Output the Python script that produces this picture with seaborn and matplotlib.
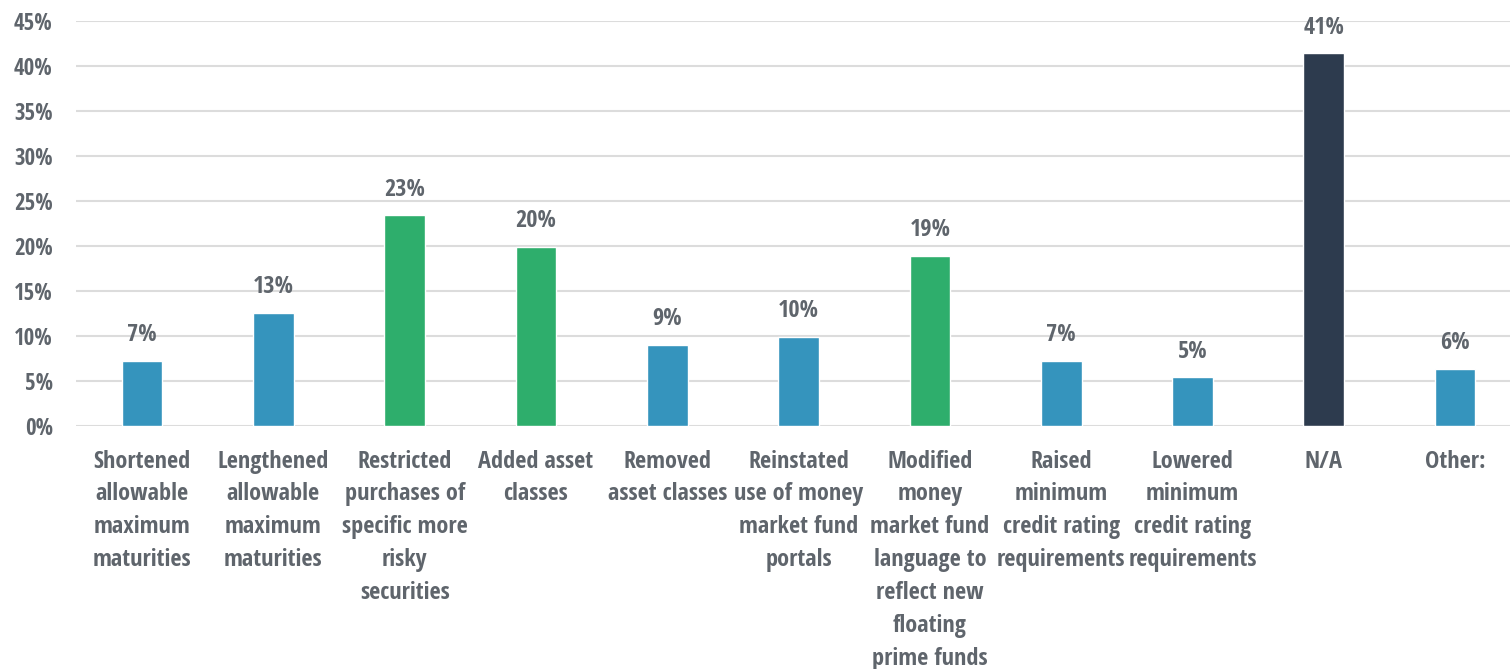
import matplotlib
matplotlib.use("Agg")
import matplotlib.pyplot as plt
import seaborn as sns
import pandas as pd
from matplotlib import font_manager

categories = [
    "Shortened\nallowable\nmaximum\nmaturities",
    "Lengthened\nallowable\nmaximum\nmaturities",
    "Restricted\npurchases of\nspecific more\nrisky\nsecurities",
    "Added asset\nclasses",
    "Removed\nasset classes",
    "Reinstated\nuse of money\nmarket fund\nportals",
    "Modified\nmoney\nmarket fund\nlanguage to\nreflect new\nfloating\nprime funds",
    "Raised\nminimum\ncredit rating\nrequirements",
    "Lowered\nminimum\ncredit rating\nrequirements",
    "N/A",
    "Other:",
]
values = [7.2, 12.6, 23.4, 19.9, 9.0, 9.9, 18.9, 7.2, 5.4, 41.4, 6.3]
groups = ["blue", "blue", "green", "green", "blue", "blue", "green", "blue", "blue", "navy", "blue"]
palette = {"blue": "#3594bd", "green": "#2eae6c", "navy": "#2d3b4e"}
yticks = [0, 5, 10, 15, 20, 25, 30, 35, 40, 45]

sns.set_theme(style="white")

# Condensed bold face for all chart text
cond = [f.fname for f in font_manager.fontManager.ttflist
        if f.fname.split("/")[-1].lower().startswith("opensans-condbold")]
if cond:
    def face(size):
        return font_manager.FontProperties(fname=cond[0], size=size)
else:
    plt.rcParams["font.family"] = ["Open Sans", "DejaVu Sans"]
    def face(size):
        return font_manager.FontProperties(family="Open Sans", weight="bold",
                                           stretch="condensed", size=size)

text_color = "#5f656c"
df = pd.DataFrame({"category": categories, "value": values, "group": groups})

fig = plt.figure(figsize=(15.1, 6.69), dpi=100)
ax = fig.add_axes([76.4 / 1510, 243 / 669, 1444.4 / 1510, 405 / 669])

sns.barplot(data=df, x="category", y="value", hue="group", palette=palette,
            dodge=False, width=0.31, legend=False, ax=ax, saturation=1)

ax.set_xlim(-0.5, len(categories) - 0.5)
ax.set_ylim(0, 45)
ax.set_yticks(yticks)
ax.set_yticklabels([f"{t}%" for t in yticks], fontproperties=face(16.5), color=text_color)
ax.yaxis.grid(True, color="#dcdcdc", linewidth=1.5)
ax.set_axisbelow(True)
for s in ax.spines.values():
    s.set_visible(False)
ax.tick_params(axis="y", length=0, pad=17)
ax.tick_params(axis="x", length=0, pad=17)
ax.set_xticks(range(len(categories)))
ax.set_xticklabels(categories, fontproperties=face(17.5), color=text_color,
                   linespacing=1.49, va="top")
ax.set_xlabel("")
ax.set_ylabel("")

for i, v in enumerate(values):
    ax.annotate(f"{round(v)}%", (i, v), xytext=(0, 10), textcoords="offset points",
                ha="center", va="bottom", fontproperties=face(17.5), color=text_color)

fig.savefig("out.png", dpi=100)
